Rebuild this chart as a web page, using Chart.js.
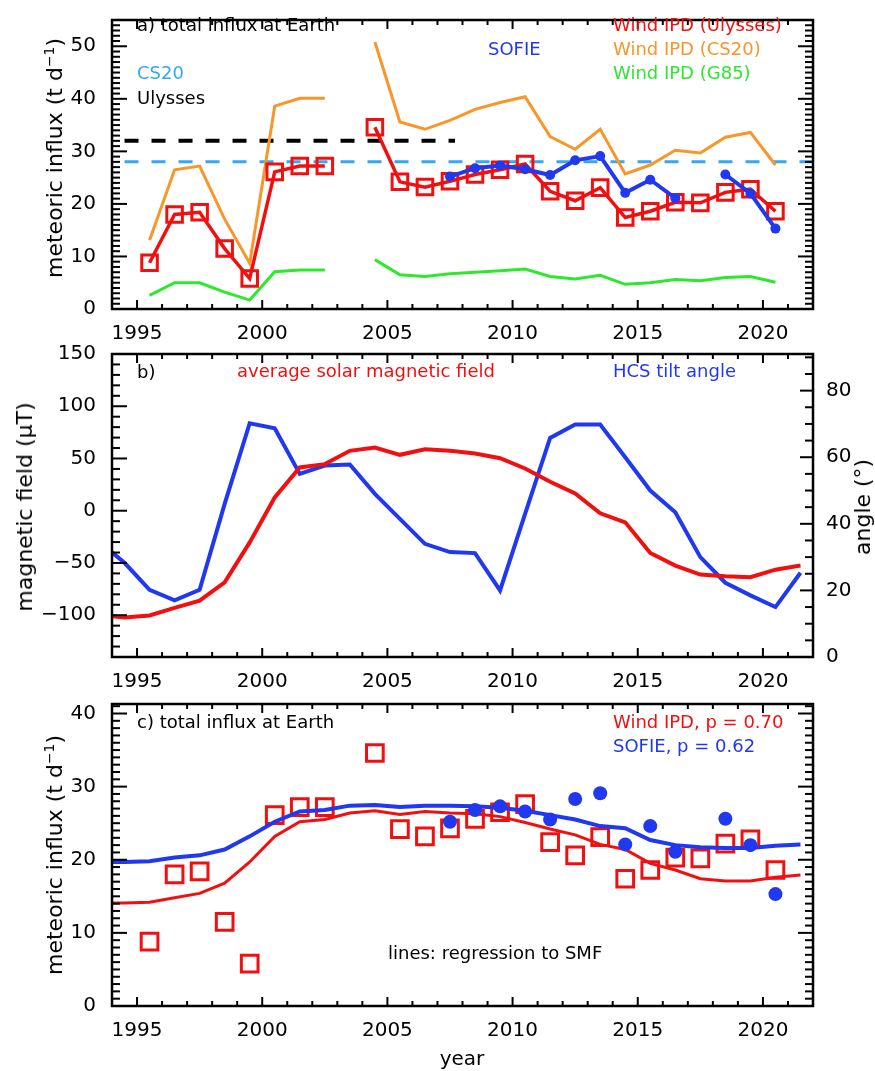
<!DOCTYPE html>
<html><head><meta charset="utf-8">
<script src="https://cdn.jsdelivr.net/npm/chart.js@4.4.0/dist/chart.umd.min.js"></script>
<style>
body{margin:0;background:#fff;}
#wrap{position:relative;width:875px;height:1071px;overflow:hidden;font-family:"DejaVu Sans",sans-serif;}
canvas{position:absolute;left:0;top:0;}
.t{position:absolute;white-space:nowrap;font-size:18px;line-height:1;transform:translateY(-50%);}
.yt{position:absolute;white-space:nowrap;font-size:22px;line-height:1;transform:translate(-50%,-50%) rotate(-90deg);}
.yt sup{font-size:14px;vertical-align:8px;line-height:0;}
</style></head>
<body><div id="wrap">
<canvas id="cA" width="875" height="1071"></canvas>
<canvas id="cB" width="875" height="1071"></canvas>
<canvas id="cC" width="875" height="1071"></canvas>

<div class="t" style="left:137px;top:25px;color:#000">a) total influx at Earth</div>
<div class="t" style="left:137px;top:73px;color:#33a8f5">CS20</div>
<div class="t" style="left:137px;top:98px;color:#000">Ulysses</div>
<div class="t" style="left:488px;top:49px;color:#2038f0">SOFIE</div>
<div class="t" style="left:613px;top:25px;color:#f01010">Wind IPD (Ulysses)</div>
<div class="t" style="left:613px;top:49px;color:#f8962a">Wind IPD (CS20)</div>
<div class="t" style="left:613px;top:73px;color:#2ee82e">Wind IPD (G85)</div>

<div class="t" style="left:137px;top:372px;color:#000">b)</div>
<div class="t" style="left:237px;top:371px;color:#f01010">average solar magnetic field</div>
<div class="t" style="left:613px;top:371px;color:#2038f0">HCS tilt angle</div>

<div class="t" style="left:137px;top:722px;color:#000">c) total influx at Earth</div>
<div class="t" style="left:613px;top:722px;color:#f01010">Wind IPD, p = 0.70</div>
<div class="t" style="left:613px;top:746px;color:#2038f0">SOFIE, p = 0.62</div>
<div class="t" style="left:388px;top:953px;color:#000">lines: regression to SMF</div>

<div class="yt" style="left:55px;top:158px">meteoric influx (t d<sup>−1</sup>)</div>
<div class="yt" style="left:25px;top:507px">magnetic field (μT)</div>
<div class="yt" style="left:863px;top:507px">angle (°)</div>
<div class="yt" style="left:55px;top:855px">meteoric influx (t d<sup>−1</sup>)</div>
<div class="yt" style="left:462px;top:1058px;font-size:20px;transform:translate(-50%,-50%)">year</div>
</div>
<script>
// ---------- data ----------
const years = [1995.5,1996.5,1997.5,1998.5,1999.5,2000.5,2001.5,2002.5,2003.5,2004.5,2005.5,2006.5,2007.5,2008.5,2009.5,2010.5,2011.5,2012.5,2013.5,2014.5,2015.5,2016.5,2017.5,2018.5,2019.5,2020.5];
const windUlysses = [8.8,18.0,18.4,11.5,5.8,26.1,27.2,27.2,null,34.6,24.2,23.2,24.3,25.6,26.5,27.6,22.4,20.6,23.1,17.4,18.6,20.3,20.2,22.2,22.8,18.6];
const windCS20 = [13.1,26.5,27.2,17.1,8.7,38.6,40.1,40.1,null,50.8,35.6,34.2,35.9,38.0,39.3,40.4,32.8,30.4,34.2,25.7,27.4,30.2,29.7,32.7,33.6,27.4];
const windG85 = [2.6,5.0,5.0,3.2,1.7,7.1,7.4,7.4,null,9.4,6.5,6.2,6.7,7.0,7.3,7.6,6.2,5.7,6.4,4.7,5.0,5.6,5.4,6.0,6.2,5.1];
const sofie = [null,null,null,null,null,null,null,null,null,null,null,null,25.2,26.8,27.3,26.6,25.5,28.3,29.1,22.1,24.6,21.1,null,25.6,22.0,15.3];
const ulyssesLevel = 32;
const ulyssesSpan = [1994.5, 2007.7];
const cs20Level = 28;
const cs20Span = [1994.5, 2022];

const yearsB = [1993.5,1994.5,1995.5,1996.5,1997.5,1998.5,1999.5,2000.5,2001.5,2002.5,2003.5,2004.5,2005.5,2006.5,2007.5,2008.5,2009.5,2010.5,2011.5,2012.5,2013.5,2014.5,2015.5,2016.5,2017.5,2018.5,2019.5,2020.5,2021.5];
const smf = [-100,-102.2,-100.3,-93,-86,-68.5,-30.3,12.7,41.4,44.6,57.3,60.5,53.5,58.9,57.3,54.8,50.3,40.4,27.7,16.6,-2.5,-11.1,-40.4,-52.5,-61.1,-62.7,-63.7,-56.4,-52.5];
const hcsTilt = [34.5,28.3,20.2,17.0,20.2,46.0,70.2,68.7,55.0,57.5,57.8,49.0,41.5,34.0,31.5,31.2,20.0,43.0,65.8,69.8,69.8,60.0,50.0,43.5,30.0,22.3,18.5,15.0,25.3];
const regWind = [14.1,14.1,14.2,14.8,15.4,16.8,19.7,23.2,25.2,25.5,26.4,26.7,26.2,26.6,26.4,26.3,25.9,25.1,24.2,23.4,22.1,21.4,19.5,18.6,17.4,17.1,17.1,17.6,17.9];
const regSofie = [19.7,19.7,19.8,20.3,20.6,21.4,23.2,25.2,26.6,26.8,27.4,27.5,27.2,27.4,27.4,27.3,27.1,26.7,26.1,25.5,24.6,24.3,22.7,22.0,21.7,21.6,21.6,21.9,22.1];

const xTicks = [1995,2000,2005,2010,2015,2020];
const yTicksA = [0,10,20,30,40,50];
const yTicksB = [-100,-50,0,50,100,150];
const yTicksB2 = [0,20,40,60,80];
const yTicksC = [0,10,20,30,40];

// ---------- styling ----------
const RED='#f01010', ORANGE='#f8962a', GREEN='#2ee82e', BLUE='#2038f0', LBLUE='#33a8f5';
const FONT={family:'"DejaVu Sans", sans-serif', size:20};
const W=875, H=1071, LEFTW=112, RIGHTW=62, XAXH=44;

const pts = (xs, ys) => xs.map((x,i)=>({x, y: ys[i]}));
const span = (s, v) => [{x:s[0], y:v},{x:s[1], y:v}];
const fmt = v => String(v).replace('-', '\u2212');

const idlFrame = {
  id:'idlFrame',
  afterDatasetsDraw(chart, args, opts){
    const {ctx, chartArea:a} = chart;
    ctx.save();
    ctx.strokeStyle='#000';
    ctx.lineWidth=2;
    ctx.lineCap='butt';
    (opts.axes||[]).forEach(ax=>{
      const s = chart.scales[ax.id];
      const i0 = Math.ceil(s.min/ax.minor - 1e-9), i1 = Math.floor(s.max/ax.minor + 1e-9);
      for(let i=i0;i<=i1;i++){
        const v = i*ax.minor;
        const r = v/ax.major;
        const isMaj = Math.abs(r-Math.round(r))<1e-6;
        const len = isMaj?ax.majLen:ax.minLen;
        const p = s.getPixelForValue(v);
        ax.sides.forEach(side=>{
          ctx.beginPath();
          if(side==='bottom'){ctx.moveTo(p,a.bottom);ctx.lineTo(p,a.bottom-len);}
          else if(side==='top'){ctx.moveTo(p,a.top);ctx.lineTo(p,a.top+len);}
          else if(side==='left'){ctx.moveTo(a.left,p);ctx.lineTo(a.left+len,p);}
          else {ctx.moveTo(a.right,p);ctx.lineTo(a.right-len,p);}
          ctx.stroke();
        });
      }
    });
    ctx.lineWidth=2.5;
    ctx.strokeRect(a.left,a.top,a.right-a.left,a.bottom-a.top);
    ctx.restore();
  }
};

function xScale(){
  return {type:'linear', position:'bottom', min:1994, max:2022,
    afterBuildTicks:s=>{s.ticks = xTicks.map(v=>({value:v}));},
    afterFit:s=>{s.height = XAXH;},
    grid:{display:false}, border:{display:false},
    ticks:{font:FONT, color:'#000', padding:5, maxRotation:0, autoSkip:false, callback:v=>String(v)}};
}
function yScale(min,max,ticks,pos,width){
  return {type:'linear', position:pos, min, max,
    afterBuildTicks:s=>{s.ticks = ticks.map(v=>({value:v}));},
    afterFit:s=>{s.width = width;},
    grid:{display:false}, border:{display:false},
    ticks:{font:FONT, color:'#000', padding:pos==='left'?8:5, autoSkip:false, callback:fmt}};
}
function baseOpts(top,bottom,rightPad,scales,axes){
  return {responsive:false, animation:false, events:[],
    layout:{padding:{left:0,right:rightPad,top:top,bottom:H-bottom-XAXH}},
    scales,
    plugins:{legend:{display:false}, tooltip:{enabled:false}, idlFrame:{axes}}};
}
const xAxisTicks = {id:'x', major:5, minor:1, majLen:9, minLen:5, sides:['bottom','top']};

// ---------- panel a ----------
new Chart(document.getElementById('cA'), {
  type:'line',
  data:{datasets:[
    {data:pts(years,sofie), borderColor:BLUE, backgroundColor:BLUE, borderWidth:4, pointRadius:5, pointStyle:'circle', pointBorderWidth:0, order:0},
    {data:pts(years,windUlysses), borderColor:RED, backgroundColor:'rgba(0,0,0,0)', borderWidth:3.5, pointRadius:11, pointStyle:'rect', pointBorderWidth:3, order:1},
    {data:pts(years,windCS20), borderColor:ORANGE, borderWidth:3, pointRadius:0, order:2},
    {data:pts(years,windG85), borderColor:GREEN, borderWidth:3, pointRadius:0, order:3},
    {data:span(ulyssesSpan,ulyssesLevel), borderColor:'#000', borderWidth:4, borderDash:[14,13], pointRadius:0, order:5},
    {data:span(cs20Span,cs20Level), borderColor:LBLUE, borderWidth:3, borderDash:[14,13], pointRadius:0, order:4}
  ]},
  options:baseOpts(6,309,W-813,{x:xScale(), y:yScale(0,55,yTicksA,'left',LEFTW)},
    [xAxisTicks,{id:'y', major:10, minor:1, majLen:15, minLen:8, sides:['left','right']}]),
  plugins:[idlFrame]
});

// ---------- panel b ----------
new Chart(document.getElementById('cB'), {
  type:'line',
  data:{datasets:[
    {data:pts(yearsB,hcsTilt), yAxisID:'y1', borderColor:BLUE, borderWidth:4, pointRadius:0, order:1},
    {data:pts(yearsB,smf), yAxisID:'y', borderColor:RED, borderWidth:4, pointRadius:0, order:0}
  ]},
  options:baseOpts(354,657,0,{x:xScale(), y:yScale(-140,150,yTicksB,'left',LEFTW), y1:yScale(0,91,yTicksB2,'right',RIGHTW)},
    [xAxisTicks,{id:'y', major:50, minor:10, majLen:15, minLen:8, sides:['left']},{id:'y1', major:20, minor:5, majLen:13, minLen:8, sides:['right']}]),
  plugins:[idlFrame]
});

// ---------- panel c ----------
new Chart(document.getElementById('cC'), {
  type:'line',
  data:{datasets:[
    {data:pts(years,sofie), borderColor:BLUE, backgroundColor:BLUE, showLine:false, pointRadius:7, pointStyle:'circle', pointBorderWidth:0, order:0},
    {data:pts(years,windUlysses), borderColor:RED, backgroundColor:'rgba(0,0,0,0)', showLine:false, pointRadius:11.8, pointStyle:'rect', pointBorderWidth:3, order:3},
    {data:pts(yearsB,regSofie), borderColor:BLUE, borderWidth:4, pointRadius:0, order:1},
    {data:pts(yearsB,regWind), borderColor:RED, borderWidth:3, pointRadius:0, order:2}
  ]},
  options:baseOpts(704,1006,W-813,{x:xScale(), y:yScale(0,41.3,yTicksC,'left',LEFTW)},
    [xAxisTicks,{id:'y', major:10, minor:1, majLen:15, minLen:8, sides:['left','right']}]),
  plugins:[idlFrame]
});
</script>
</body></html>
